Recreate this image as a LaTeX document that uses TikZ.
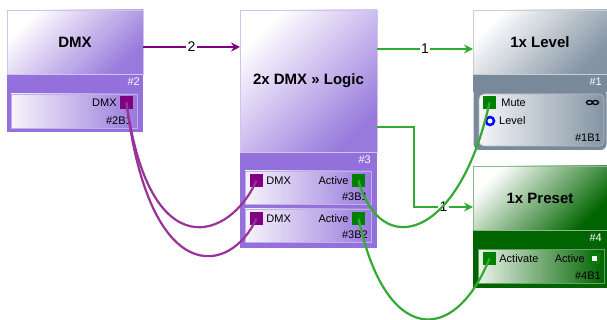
\documentclass[tikz,border=0pt]{standalone}
\usepackage{fontspec}
\setmainfont{Liberation Sans}
\usetikzlibrary{arrows.meta, positioning}
\definecolor{blkpurple}{RGB}{147,112,219}
\definecolor{hdpurple}{RGB}{152,122,220}
\definecolor{dmxport}{RGB}{128,0,128}
\definecolor{dmxwire}{RGB}{153,51,153}
\definecolor{actport}{RGB}{0,128,0}
\definecolor{actwire}{RGB}{51,170,51}
\definecolor{lvlgray}{RGB}{120,137,154}
\definecolor{hdgray}{RGB}{132,148,164}
\definecolor{prsgreen}{RGB}{0,100,0}

\begin{document}
\begin{tikzpicture}[
  x=1pt, y=-1pt,
  body/.style={rectangle, anchor=north west, inner sep=0, outer sep=0, fill=#1},
  header/.style={
    rectangle, anchor=north west, inner sep=0, outer sep=0,
    top color=white, bottom color=#1, shading angle=45,
    draw=white!55!#1, line width=0.8pt,
    font=\fontsize{15}{15}\selectfont\bfseries
  },
  portbox/.style={
    rectangle, anchor=north west, inner sep=0, outer sep=0,
    left color=white!92!#1, right color=#1, draw=white!40!#1, line width=0.6pt
  },
  port/.style={rectangle, inner sep=0, minimum size=13, fill=#1},
  plabel/.style={font=\fontsize{11}{11}\selectfont, inner sep=1pt},
  idlabel/.style={font=\fontsize{11}{11}\selectfont, inner sep=1pt, anchor=east, text=white},
  arrow/.style={-{Stealth[length=9pt,width=9pt]}, line width=2.5pt},
  wire/.style={line width=2.2pt},
  numlbl/.style={fill=white, text=black, inner sep=1.5pt, font=\fontsize{14}{14}\selectfont}
]
  \useasboundingbox (0,0) rectangle (607,320);

  % DMX block (#2)
  \node[body=blkpurple, minimum width=136, minimum height=122] (dmx) at (7,10) {};
  \node[header=hdpurple, minimum width=136, minimum height=64] (dmxhd) at (7,10) {DMX};
  \node[idlabel] (dmxid) at (141,82) {\#2};
  \node[portbox=hdpurple, minimum width=126, minimum height=34] (dmxbox) at (11,94) {};
  \node[port=dmxport] (dmxout) at (126.5,102.5) {};
  \node[plabel, left=2pt of dmxout] (dmxoutlbl) {DMX};
  \node[plabel, anchor=east] (dmxboxid) at (133,121) {\#2B1};

  % Logic block (#3)
  \node[body=blkpurple, minimum width=137, minimum height=238] (logic) at (240,10) {};
  \node[header=hdpurple, minimum width=137, minimum height=142] (logichd) at (240,10) {2x DMX » Logic};
  \node[idlabel] (logicid) at (372,160) {\#3};
  \node[portbox=hdpurple, minimum width=126, minimum height=33] (lgbox1) at (245,171) {};
  \node[portbox=hdpurple, minimum width=126, minimum height=33] (lgbox2) at (245,209) {};
  \node[port=dmxport] (lgin1) at (256.5,180.5) {};
  \node[port=actport] (lgout1) at (358.5,180.5) {};
  \node[port=dmxport] (lgin2) at (256.5,218.5) {};
  \node[port=actport] (lgout2) at (358.5,218.5) {};
  \node[plabel, right=2pt of lgin1] (lgin1lbl) {DMX};
  \node[plabel, left=2pt of lgout1] (lgout1lbl) {Active};
  \node[plabel, right=2pt of lgin2] (lgin2lbl) {DMX};
  \node[plabel, left=2pt of lgout2] (lgout2lbl) {Active};
  \node[plabel, anchor=east] (lgbox1id) at (369,197) {\#3B1};
  \node[plabel, anchor=east] (lgbox2id) at (369,235) {\#3B2};

  % Level block (#1)
  \node[body=lvlgray, minimum width=134, minimum height=82] (lvl) at (473,10) {};
  \node[body=lvlgray, rounded corners=6pt, minimum width=133, minimum height=62] (lvlfoot) at (473.5,88) {};
  \node[header=hdgray, minimum width=134, minimum height=64] (lvlhd) at (473,10) {1x Level};
  \node[idlabel] (lvlid) at (603,82) {\#1};
  \node[portbox=hdgray, rounded corners=5pt, minimum width=125, minimum height=52] (lvlbox) at (479,94) {};
  \node[port=actport] (lvlmute) at (489.5,102.5) {};
  \node[circle, draw=blue, line width=2.5pt, fill=white, minimum size=8, inner sep=0] (lvlin) at (490,121) {};
  \node[plabel, right=4pt of lvlmute] (lvlmutelbl) {Mute};
  \node[plabel, anchor=west] (lvlinlbl) at (498,121) {Level};
  \node[plabel, anchor=east] (lvlboxid) at (602,138) {\#1B1};
  \draw[line width=1.3pt] (589.5,102.5) ellipse (3pt and 2pt) (595.5,102.5) ellipse (3pt and 2pt);

  % Preset block (#4)
  \node[body=prsgreen, minimum width=134, minimum height=122] (prs) at (473,166) {};
  \node[header=prsgreen, minimum width=134, minimum height=64] (prshd) at (473,166) {1x Preset};
  \node[idlabel] (prsid) at (603,238) {\#4};
  \node[portbox=prsgreen, minimum width=126, minimum height=34] (prsbox) at (478,249) {};
  \node[port=actport] (prsin) at (489.5,258.5) {};
  \node[rectangle, inner sep=0, minimum size=8, fill=white, draw=actport, line width=3pt] (prsout) at (594.5,258.5) {};
  \node[plabel, right=2pt of prsin] (prsinlbl) {Activate};
  \node[plabel, left=3pt of prsout] (prsoutlbl) {Active};
  \node[plabel, anchor=east] (prsboxid) at (602,276) {\#4B1};

  % Block links
  \draw[arrow, dmxport] ([yshift=-5pt]dmxhd.east) -- ([yshift=-5pt]dmxhd.east -| logic.west)
    node[numlbl, midway] {2};
  \draw[arrow, actwire] ([yshift=-7pt]lvlhd.west -| logic.east) -- ([yshift=-7pt]lvlhd.west)
    node[numlbl, midway] {1};
  \draw[arrow, actwire] ([yshift=-46pt]logichd.east) -- ++(37,0) |- ([yshift=-9pt]prshd.west)
    node[numlbl, pos=0.75] {1};

  % Port wires
  \draw[wire, dmxwire] (dmxout.center) .. controls +(23,167) and +(-26,59) .. (lgin1.center);
  \draw[wire, dmxwire] (dmxout.center) .. controls +(23,187) and +(-26,57) .. (lgin2.center);
  \draw[wire, actwire] (lgout1.center) .. controls +(22,80) and +(-30,137) .. (lvlmute.center);
  \draw[wire, actwire] (lgout2.center) .. controls +(27,127) and +(-35,87) .. (prsin.center);
\end{tikzpicture}
\end{document}
